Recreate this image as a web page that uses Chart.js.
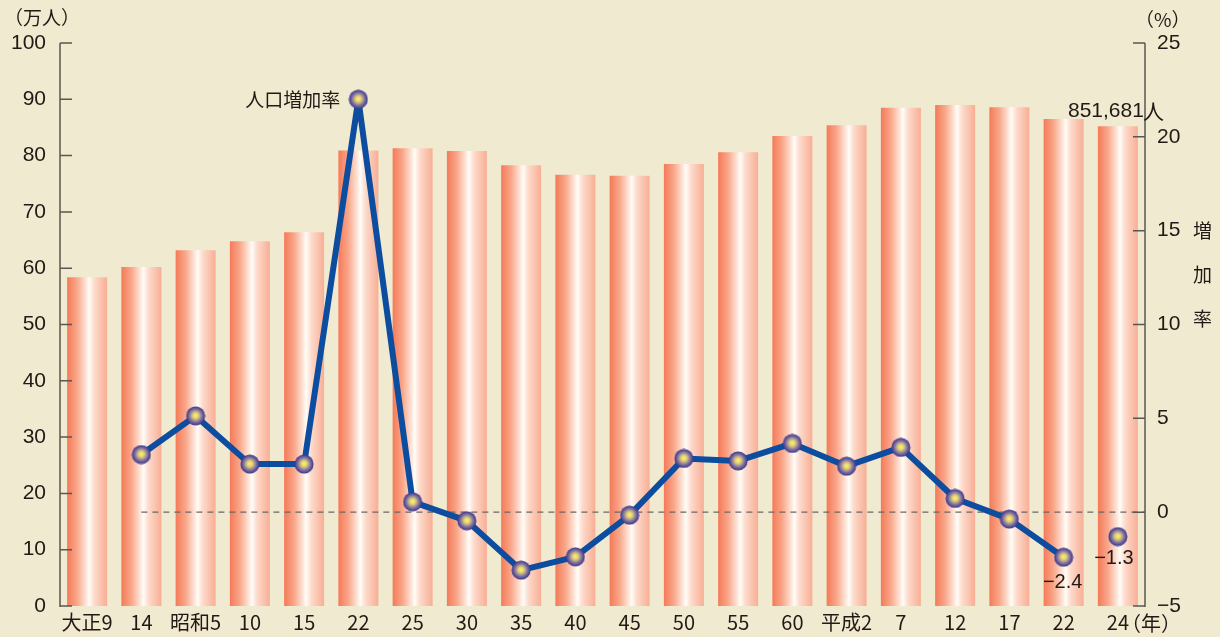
<!DOCTYPE html>
<html>
<head>
<meta charset="utf-8">
<script src="https://cdn.jsdelivr.net/npm/chart.js@4"></script>
<style>
  html, body { margin: 0; padding: 0; background: #f0ead0; }
  #wrap { width: 1220px; height: 637px; }
</style>
</head>
<body>
<div id="wrap"><canvas id="grafico" width="1220" height="637"></canvas></div>
<script>
// 年次
const anos = ["大正9", "14", "昭和5", "10", "15", "22", "25", "30", "35", "40", "45", "50", "55", "60", "平成2", "7", "12", "17", "22", "24"];
// 人口（万人）
const populacao = [58.4, 60.2, 63.2, 64.8, 66.4, 80.9, 81.3, 80.8, 78.3, 76.6, 76.4, 78.5, 80.6, 83.5, 85.4, 88.5, 89.0, 88.6, 86.5, 85.2];
// 人口増加率（%）
const taxa = [null, 3.07, 5.13, 2.56, 2.56, 22.0, 0.55, -0.46, -3.09, -2.38, -0.16, 2.86, 2.73, 3.66, 2.45, 3.45, 0.73, -0.37, -2.4, -1.3];
// eixos
const ticksEsq = { min: 0, max: 100, step: 10 };
const ticksDir = { min: -5, max: 25, step: 5 };

const FONTE = "'Liberation Sans', 'Noto Sans CJK JP', sans-serif";
const FONTE_JP = "'Noto Sans CJK JP', 'Liberation Sans', sans-serif";
const COR_TEXTO = "#231815";
const COR_EIXO = "#5b5652";
const COR_LINHA = "#0c4d9f";
const larguraBarra = 0.737;

// bolinha com degradê
function criarPonto() {
  const c = document.createElement("canvas");
  c.width = 20; c.height = 20;
  const g = c.getContext("2d");
  const rg = g.createRadialGradient(10, 9.5, 0, 10, 10, 9.5);
  rg.addColorStop(0, "#fff66a");
  rg.addColorStop(0.3, "#e0cf78");
  rg.addColorStop(0.7, "#7a6aa0");
  rg.addColorStop(1, "#36358a");
  g.fillStyle = rg;
  g.beginPath();
  g.arc(10, 10, 9.5, 0, Math.PI * 2);
  g.fill();
  return c;
}
const ponto = criarPonto();

function corBarra(ctx) {
  const chart = ctx.chart;
  const x = chart.scales.x;
  if (ctx.type !== "data" || !x || !chart.chartArea) return "#f7a489";
  const cx = x.getPixelForValue(ctx.dataIndex);
  const meia = (x.width / anos.length) * larguraBarra / 2;
  const g = chart.ctx.createLinearGradient(cx - meia, 0, cx + meia, 0);
  g.addColorStop(0, "#f47a58");
  g.addColorStop(0.25, "#f9a78a");
  g.addColorStop(0.47, "#fee4d8");
  g.addColorStop(0.55, "#fffdf8");
  g.addColorStop(0.68, "#fddacb");
  g.addColorStop(1, "#f8ae94");
  return g;
}

const eixosPlugin = {
  id: "eixos",
  afterDatasetDraw(chart, args) {
    if (args.index !== 0) return; // linha tracejada do zero, por cima das barras
    const { ctx, scales } = chart;
    const y0 = scales.y2.getPixelForValue(0);
    ctx.save();
    ctx.strokeStyle = "#6b6763";
    ctx.lineWidth = 1.3;
    ctx.setLineDash([6, 5]);
    ctx.beginPath();
    ctx.moveTo(scales.x.getPixelForValue(1), y0);
    ctx.lineTo(chart.chartArea.right, y0);
    ctx.stroke();
    ctx.restore();
  },
  afterDraw(chart) {
    const { ctx, chartArea: a, scales } = chart;
    ctx.save();
    ctx.strokeStyle = COR_EIXO;
    ctx.lineWidth = 1.5;
    ctx.beginPath();
    ctx.moveTo(a.left, a.top); ctx.lineTo(a.left, a.bottom + 1);
    ctx.moveTo(a.right, a.top); ctx.lineTo(a.right, a.bottom + 1);
    scales.y.ticks.forEach(t => {
      const py = scales.y.getPixelForValue(t.value);
      ctx.moveTo(a.left, py); ctx.lineTo(a.left + 12, py);
    });
    scales.y2.ticks.forEach(t => {
      const py = scales.y2.getPixelForValue(t.value);
      ctx.moveTo(a.right, py); ctx.lineTo(a.right - 12, py);
    });
    ctx.stroke();

    // textos
    ctx.fillStyle = COR_TEXTO;
    ctx.textBaseline = "middle";
    ctx.font = "19px " + FONTE_JP;
    ctx.textAlign = "left";
    ctx.fillText("（万人）", 4, 18);
    ctx.fillText("（%）", a.right - 10, 20);
    const yRot = scales.y2.getPixelForValue(12.5);
    ["増", "加", "率"].forEach((ch, i) => ctx.fillText(ch, a.right + 48, yRot + (i - 1) * 44 - 3));
    const ult = anos.length - 1;
    const xu = scales.x.getPixelForValue(ult);
    ctx.font = "20px " + FONTE_JP;
    ctx.fillText("（年）", xu + 3, a.bottom + 17);

    // rótulos dos dados
    const xPico = scales.x.getPixelForValue(5);
    ctx.textAlign = "right";
    ctx.font = "19px " + FONTE_JP;
    ctx.fillText("人口増加率", xPico - 18, scales.y2.getPixelForValue(taxa[5]));
    const yTotal = scales.y.getPixelForValue(populacao[ult]) - 15;
    ctx.font = "21px " + FONTE;
    ctx.textAlign = "right";
    ctx.fillText("851,681", xu + 26, yTotal);
    ctx.font = "21px " + FONTE_JP;
    ctx.textAlign = "left";
    ctx.fillText("人", xu + 25, yTotal);
    ctx.font = "20px " + FONTE;
    ctx.textAlign = "center";
    ctx.fillText(taxa[ult - 1].toFixed(1).replace("-", "−"), scales.x.getPixelForValue(ult - 1) - 1, scales.y2.getPixelForValue(taxa[ult - 1]) + 25);
    ctx.fillText(taxa[ult].toFixed(1).replace("-", "−"), xu - 4, scales.y2.getPixelForValue(taxa[ult]) + 22);
    ctx.restore();
  }
};

new Chart(document.getElementById("grafico").getContext("2d"), {
  data: {
    labels: anos,
    datasets: [
      {
        type: "bar",
        label: "人口",
        data: populacao,
        yAxisID: "y",
        backgroundColor: corBarra,
        borderWidth: 0,
        barPercentage: larguraBarra,
        categoryPercentage: 1,
        order: 2
      },
      {
        type: "line",
        label: "人口増加率",
        data: taxa,
        yAxisID: "y2",
        borderColor: COR_LINHA,
        borderWidth: 6,
        borderJoinStyle: "round",
        tension: 0,
        pointStyle: ponto,
        pointRadius: 10,
        segment: {
          borderColor: c => c.p1DataIndex === anos.length - 1 ? "transparent" : COR_LINHA
        },
        order: 1
      }
    ]
  },
  options: {
    responsive: false,
    animation: false,
    layout: { padding: { top: 43, left: 0, right: 0, bottom: 0 } },
    plugins: { legend: { display: false }, tooltip: { enabled: false } },
    scales: {
      x: {
        grid: { display: false, drawTicks: false },
        border: { display: false },
        ticks: { color: COR_TEXTO, font: { family: FONTE_JP, size: 20 }, padding: 4, maxRotation: 0, autoSkip: false },
        afterFit: s => { s.height = 31; }
      },
      y: {
        position: "left",
        min: ticksEsq.min, max: ticksEsq.max,
        grid: { display: false, drawTicks: false },
        border: { display: false },
        ticks: { stepSize: ticksEsq.step, color: COR_TEXTO, font: { family: FONTE, size: 21 }, padding: 14 },
        afterFit: s => { s.width = 60; }
      },
      y2: {
        position: "right",
        min: ticksDir.min, max: ticksDir.max,
        grid: { display: false, drawTicks: false },
        border: { display: false },
        ticks: {
          stepSize: ticksDir.step, color: COR_TEXTO, font: { family: FONTE, size: 21 }, padding: 12,
          callback: v => String(v).replace("-", "−")
        },
        afterFit: s => { s.width = 75; }
      }
    }
  },
  plugins: [eixosPlugin]
});
</script>
</body>
</html>
